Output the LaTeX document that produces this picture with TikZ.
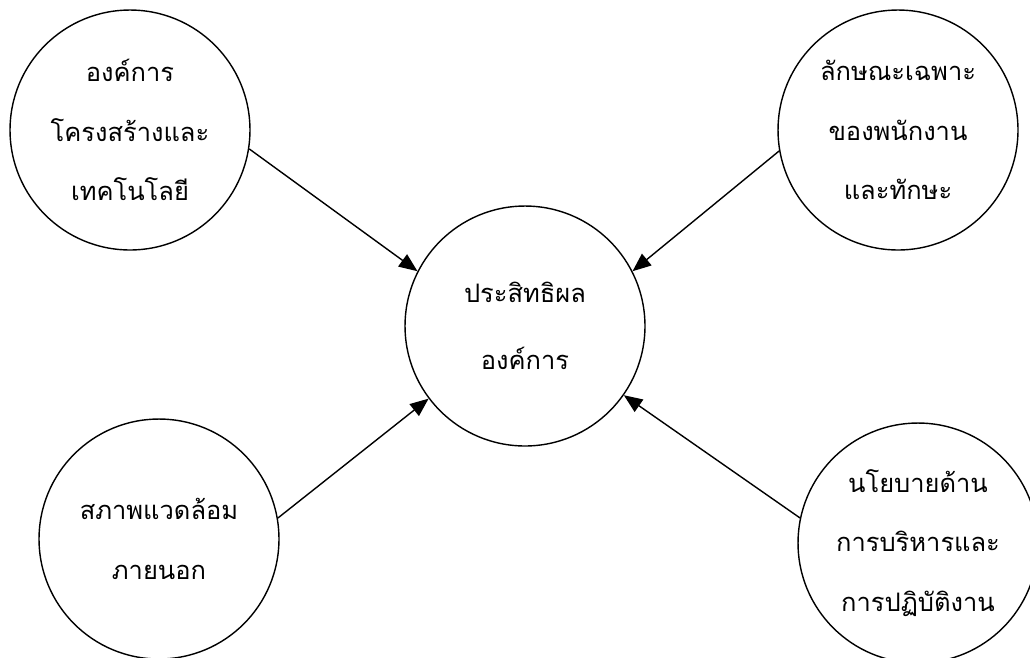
\documentclass[tikz,border=0pt]{standalone}
\usepackage{fontspec}
\newfontfamily\thaifont[Script=Thai]{Loma}
\usetikzlibrary{arrows.meta}
\tikzset{
  bubble/.style={draw,circle,minimum size=4.8cm,inner sep=0pt,line width=0.8pt,
    align=center,font=\thaifont\fontsize{14.5}{34}\selectfont},
}
\begin{document}
\begin{tikzpicture}[x=0.02cm,y=-0.02cm,>={Triangle[length=10.5pt,width=8.5pt]},line join=round]
  \clip (0,0) rectangle (1030,657);
  \node[bubble] (org) at (130,130) {องค์การ\\โครงสร้างและ\\เทคโนโลยี};
  \node[bubble] (emp) at (898,130) {ลักษณะเฉพาะ\\ของพนักงาน\\และทักษะ};
  \node[bubble,font=\thaifont\fontsize{14.5}{38}\selectfont] (eff) at (525,326) {ประสิทธิผล\\องค์การ};
  \node[bubble] (env) at (159,539) {สภาพแวดล้อม\\ภายนอก};
  \node[bubble] (pol) at (918,543) {นโยบายด้าน\\การบริหารและ\\การปฏิบัติงาน};
  \draw[->,line width=0.8pt] (org.-9) -- (eff.153);
  \draw[->,line width=0.8pt] (emp.190) -- (eff.27);
  \draw[->,line width=0.8pt] (env.10) -- (eff.217);
  \draw[->,line width=0.8pt] (pol.168) -- (eff.-35);
\end{tikzpicture}
\end{document}
